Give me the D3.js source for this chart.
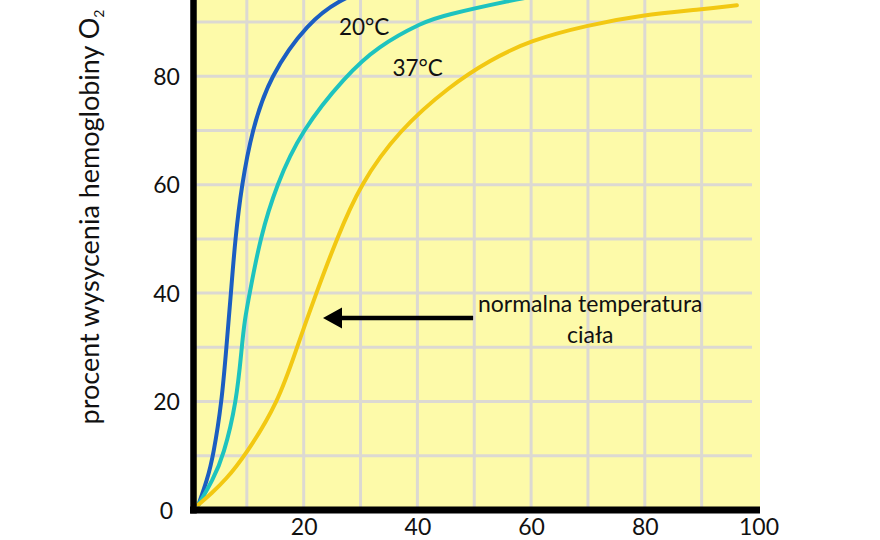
<!DOCTYPE html>
<html>
<head>
<meta charset="utf-8">
<script src="https://cdn.jsdelivr.net/npm/d3@7"></script>
<style>
  html, body { margin: 0; padding: 0; background: #ffffff; }
  svg { display: block; }
  text { font-family: "Lato", "Open Sans", sans-serif; fill: #111; }
</style>
</head>
<body>
<svg id="chart" width="880" height="540"></svg>
<script>
// ---- data ----
const xTickValues = [20, 40, 60, 80, 100];
const yTickValues = [0, 20, 40, 60, 80];
const gridValues = [10, 20, 30, 40, 50, 60, 70, 80, 90];

// blue curve (lowest temperature, label cut off above)
const blueX = [1.5, 3.0, 4.1, 5.6, 6.4, 7.2, 7.95, 9.1, 10.9, 14.0, 20.8, 26.4, 31.0];
const blueY = [1.0, 5.5, 10, 20, 30, 40, 50, 60, 70, 80, 90, 94.1, 96.0];

// teal curve, 20°C
const tealX = [1.5, 4.0, 5.9, 8.2, 9.1, 9.6, 10.5, 12.3, 15.2, 19.6, 27.3, 33.0, 41.0, 44.5, 56.9, 62.0];
const tealY = [1.0, 5.5, 10, 20, 30, 35, 40, 50, 60, 70, 80, 85.5, 90, 91.2, 94.1, 95.0];

// yellow curve, 37°C
const yellowX = [1.5, 3.8, 6.2, 9.7, 15.6, 18.8, 22.2, 25.8, 29.9, 36.7, 45.8, 52.8, 59.8, 69.8, 79.6, 89.7, 96.2];
const yellowY = [1.0, 3.1, 5.5, 10, 20, 30, 40, 50, 60, 70, 78.3, 83.0, 86.6, 89.4, 91.3, 92.3, 93.1];

const seriesNames = ["", "20°C", "37°C"];
const seriesColors = ["#1b5ec2", "#1ec3bf", "#f2c812"];

// ---- layout ----
const svg = d3.select("#chart");
const x = d3.scaleLinear().domain([0, 100]).range([190, 758.5]);
const y = d3.scaleLinear().domain([0, 100]).range([510, -32.2]);

// plot background
svg.append("rect")
  .attr("x", x(0) + 3).attr("y", 0)
  .attr("width", 760 - x(0) - 3).attr("height", y(0))
  .attr("fill", "#fdfaa9");

// grid
svg.append("g").selectAll("line").data(gridValues).join("line")
  .attr("x1", x(0) + 4).attr("x2", 752)
  .attr("y1", d => y(d)).attr("y2", d => y(d))
  .attr("stroke", "#dcd9d2").attr("stroke-width", 3);
svg.append("g").selectAll("line").data(gridValues).join("line")
  .attr("x1", d => x(d)).attr("x2", d => x(d))
  .attr("y1", 0).attr("y2", y(0))
  .attr("stroke", "#dcd9d2").attr("stroke-width", 3);

// curves
const series = [
  { xs: blueX, ys: blueY },
  { xs: tealX, ys: tealY },
  { xs: yellowX, ys: yellowY }
];
const line = d3.line()
  .x(d => x(d[0])).y(d => y(d[1]))
  .curve(d3.curveBasis);
series.forEach((s, i) => {
  const pts = s.xs.map((v, j) => [v, s.ys[j]]);
  svg.append("path")
    .datum(pts)
    .attr("d", line)
    .attr("fill", "none")
    .attr("stroke", seriesColors[i])
    .attr("stroke-width", 4)
    .attr("stroke-linecap", "round");
});

// axis lines
svg.append("line")
  .attr("x1", x(0) + 3.5).attr("x2", x(0) + 3.5)
  .attr("y1", 0).attr("y2", y(0) + 3.5)
  .attr("stroke", "#000").attr("stroke-width", 6.5);
svg.append("line")
  .attr("x1", x(0)).attr("x2", 760)
  .attr("y1", y(0)).attr("y2", y(0))
  .attr("stroke", "#000").attr("stroke-width", 7);

// tick labels via d3 axes
const yAxis = svg.append("g")
  .attr("transform", `translate(${x(0)},0)`)
  .call(d3.axisLeft(y).tickValues(yTickValues).tickSize(0).tickPadding(0));
yAxis.select(".domain").remove();
yAxis.selectAll("text")
  .attr("x", 166.5 - x(0))
  .attr("text-anchor", "middle")
  .attr("dy", "0.36em")
  .style("font-family", "Lato, 'Open Sans', sans-serif")
  .style("font-size", "23px")
  .attr("fill", "#111");

const xAxis = svg.append("g")
  .attr("transform", `translate(0,${y(0)})`)
  .call(d3.axisBottom(x).tickValues(xTickValues).tickSize(0).tickPadding(0));
xAxis.select(".domain").remove();
xAxis.selectAll("text")
  .attr("y", 25)
  .attr("dy", 0)
  .style("font-family", "Lato, 'Open Sans', sans-serif")
  .style("font-size", "23px")
  .attr("fill", "#111");

// y axis title
const yt = svg.append("text")
  .attr("transform", `translate(99,${217}) rotate(-90)`)
  .attr("text-anchor", "middle")
  .style("font-size", "27px");
yt.append("tspan").text("procent wysycenia hemoglobiny O");
yt.append("tspan").text("2").attr("dy", 5).style("font-size", "14px");

// curve labels
svg.append("text").attr("x", x(26.2)).attr("y", 35)
  .style("font-size", "22.5px").text(seriesNames[1]);
svg.append("text").attr("x", x(35.6)).attr("y", 76)
  .style("font-size", "22.5px").text(seriesNames[2]);

// annotation
svg.append("text").attr("x", x(70.4)).attr("y", 312)
  .attr("text-anchor", "middle").style("font-size", "23px")
  .text("normalna temperatura");
svg.append("text").attr("x", x(70.4)).attr("y", 343)
  .attr("text-anchor", "middle").style("font-size", "23px")
  .text("ciała");

const ay = y(35.4);
svg.append("line")
  .attr("x1", x(49.8)).attr("x2", x(23.4) + 16)
  .attr("y1", ay).attr("y2", ay)
  .attr("stroke", "#000").attr("stroke-width", 4.5);
svg.append("path")
  .attr("d", `M${x(23.4)},${ay} L${x(23.4) + 19},${ay - 10.5} L${x(23.4) + 19},${ay + 10.5} Z`)
  .attr("fill", "#000");
</script>
</body>
</html>
